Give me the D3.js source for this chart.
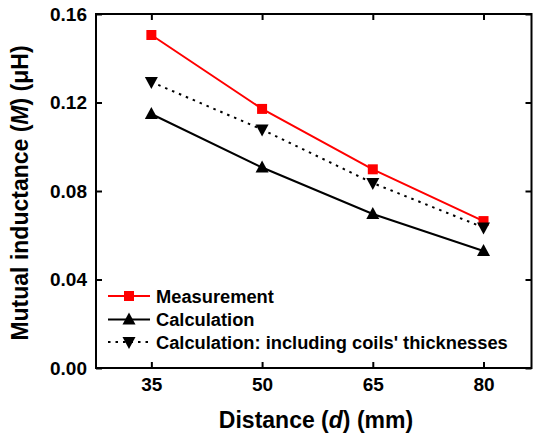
<!DOCTYPE html>
<html>
<head>
<meta charset="utf-8">
<script src="https://cdn.jsdelivr.net/npm/d3@7"></script>
<style>
  body { margin: 0; background: #fff; }
  text { font-family: Arial, "Liberation Sans", sans-serif; font-weight: bold; }
</style>
</head>
<body>
<script>
// distances (mm)
var distances = [35, 50, 65, 80];
var measurement = [0.1505, 0.1171, 0.0898, 0.0664];
var calculation = [0.1148, 0.0906, 0.0696, 0.0529];
var calcThick = [0.1293, 0.1078, 0.0836, 0.0635];
var xTicks = [35, 50, 65, 80];
var yTicks = [0.00, 0.04, 0.08, 0.12, 0.16];

var width = 534, height = 436;
var plot = {left: 96, right: 531.5, top: 14, bottom: 368};

var xScale = d3.scaleLinear().domain([27.5, 86.5]).range([plot.left, plot.right]);
var yScale = d3.scaleLinear().domain([0, 0.16]).range([plot.bottom, plot.top]);

var svg = d3.select('body').append('svg')
    .attr('width', width)
    .attr('height', height);

// axes, ticks inward on all four sides
var tick = 6;
svg.append('g')
    .attr('class', 'x axis')
    .attr('transform', 'translate(0,' + plot.bottom + ')')
    .call(d3.axisBottom(xScale).tickValues(xTicks).tickSizeInner(-tick).tickSizeOuter(0).tickPadding(10));
svg.append('g')
    .attr('transform', 'translate(0,' + plot.top + ')')
    .call(d3.axisTop(xScale).tickValues(xTicks).tickSizeInner(-tick).tickSizeOuter(0).tickFormat(''));
svg.append('g')
    .attr('class', 'y axis')
    .attr('transform', 'translate(' + plot.left + ',0)')
    .call(d3.axisLeft(yScale).tickValues(yTicks).tickSizeInner(-tick).tickSizeOuter(0).tickPadding(9).tickFormat(d3.format('.2f')));
svg.append('g')
    .attr('transform', 'translate(' + plot.right + ',0)')
    .call(d3.axisRight(yScale).tickValues(yTicks).tickSizeInner(-tick).tickSizeOuter(0).tickFormat(''));

svg.selectAll('.domain').attr('stroke', 'none');
svg.selectAll('.tick line').attr('stroke', '#000').attr('stroke-width', 2);
svg.selectAll('.tick text').attr('font-size', 19).attr('fill', '#000')
    .style('font-family', 'Arial, "Liberation Sans", sans-serif').style('font-weight', 'bold');

svg.append('rect')
    .attr('x', plot.left).attr('y', plot.top)
    .attr('width', plot.right - plot.left).attr('height', plot.bottom - plot.top)
    .attr('fill', 'none').attr('stroke', '#000').attr('stroke-width', 2);

var series = [
  {name: 'Measurement', values: measurement, color: '#ff0000', dash: null, marker: 'square'},
  {name: 'Calculation', values: calculation, color: '#000', dash: null, marker: 'up'},
  {name: "Calculation: including coils' thicknesses", values: calcThick, color: '#000', dash: '2.5,5', marker: 'down'}
];

function markerPath(type) {
  if (type === 'square') return 'M-5,-5H5V5H-5Z';
  if (type === 'up') return 'M0,-7L6.5,5L-6.5,5Z';
  return 'M0,7L6.5,-5L-6.5,-5Z';
}

var line = d3.line()
    .x(function(d, i) { return xScale(distances[i]); })
    .y(function(d) { return yScale(d); });

[series[1], series[2], series[0]].forEach(function(s) {
  svg.append('path')
      .datum(s.values)
      .attr('fill', 'none')
      .attr('stroke', s.color)
      .attr('stroke-width', 2)
      .attr('stroke-dasharray', s.dash)
      .attr('d', line);
});
[series[0], series[1], series[2]].forEach(function(s) {
  svg.selectAll(null)
      .data(s.values)
      .enter().append('path')
      .attr('transform', function(d, i) { return 'translate(' + xScale(distances[i]) + ',' + yScale(d) + ')'; })
      .attr('d', markerPath(s.marker))
      .attr('fill', s.color);
});

// legend
var legendY = [296, 319.5, 342];
series.forEach(function(s, i) {
  var g = svg.append('g').attr('transform', 'translate(0,' + legendY[i] + ')');
  g.append('line')
      .attr('x1', 108).attr('x2', 150)
      .attr('stroke', s.color).attr('stroke-width', 2)
      .attr('stroke-dasharray', s.dash);
  g.append('path')
      .attr('transform', 'translate(129,0)')
      .attr('d', markerPath(s.marker))
      .attr('fill', s.color);
  g.append('text')
      .attr('x', 156).attr('y', 6.5)
      .attr('font-size', 18.3)
      .text(s.name);
});

// axis titles
var xt = svg.append('text')
    .attr('x', 316).attr('y', 428)
    .attr('text-anchor', 'middle')
    .attr('font-size', 23);
xt.append('tspan').text('Distance (');
xt.append('tspan').style('font-style', 'italic').text('d');
xt.append('tspan').text(') (mm)');

var yt = svg.append('text')
    .attr('transform', 'translate(28,193) rotate(-90)')
    .attr('text-anchor', 'middle')
    .attr('font-size', 23);
yt.append('tspan').text('Mutual inductance (');
yt.append('tspan').style('font-style', 'italic').text('M');
yt.append('tspan').text(') (\u03bcH)');
</script>
</body>
</html>
